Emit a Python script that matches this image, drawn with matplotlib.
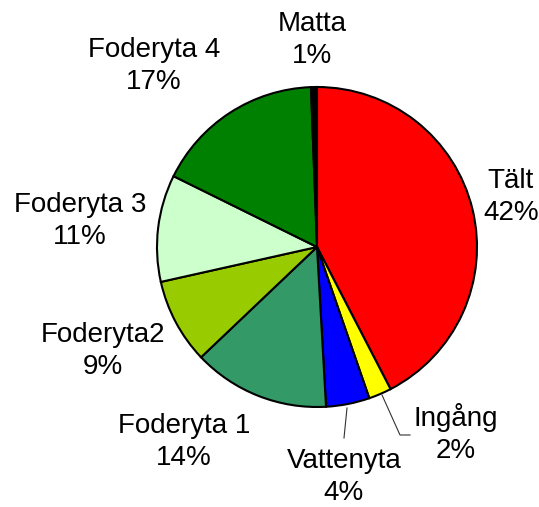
import numpy as np
import matplotlib
matplotlib.use("Agg")
import matplotlib.pyplot as plt

# Andel per yta (%), medurs från kl. 12
kategorier = ['Tält', 'Ingång', 'Vattenyta', 'Foderyta 1', 'Foderyta2',
              'Foderyta 3', 'Foderyta 4', 'Matta']
andel = [42.4, 2.3, 4.4, 13.8, 8.6, 10.8, 17.1, 0.6]
farger = ['#FF0000', '#FFFF00', '#0000FF', '#339966', '#99CC00',
          '#CCFFCC', '#008000', '#000000']

plt.rcParams['font.family'] = ['Liberation Sans', 'DejaVu Sans']

W, H = 539, 507
cx, cy, r = 317, 247, 160   # pie center / radius in pixels


def px(x, y):
    # pixel -> data coords (pie radius = 1)
    return (x - cx) / r, (cy - y) / r


fig = plt.figure(figsize=(W / 100, H / 100), dpi=100)
ax = fig.add_axes([0, 0, 1, 1])
ax.pie(andel, colors=farger, startangle=90, counterclock=False, radius=1,
       wedgeprops=dict(edgecolor='black', linewidth=1.5))
ax.set_xlim(-cx / r, (W - cx) / r)
ax.set_ylim(-(H - cy) / r, cy / r)
ax.set_aspect('auto')
ax.axis('off')

# label placement (pixels)
etikett_pos = [(511, 197), (456, 434), (344, 477), (184, 442), (103, 351),
               (80, 221), (154, 66), (312, 40)]
for namn, v, (x, y) in zip(kategorier, andel, etikett_pos):
    tx, ty = px(x, y)
    ax.text(tx, ty, f"{namn}\n{v:.0f}%", ha='center', va='center',
            fontsize=20, linespacing=1.3)

# leader lines
for pts in ([(382, 395), (400, 435), (410, 435)],
            [(347, 408), (344, 438)]):
    xs, ys = zip(*[px(*p) for p in pts])
    ax.plot(xs, ys, color='#333333', linewidth=0.8)

fig.savefig('out.png', dpi=100)
